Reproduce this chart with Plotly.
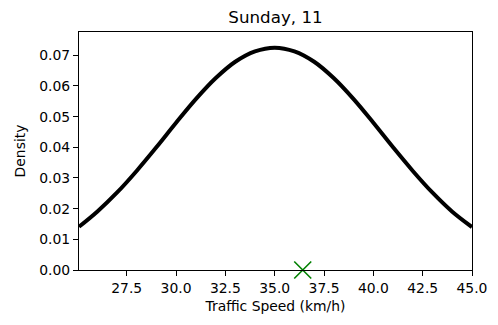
import plotly.graph_objects as go

# Values
speed = [25.08, 26, 27, 28, 29, 30, 31, 32, 33, 34, 35, 36, 37, 38, 39, 40, 41, 42, 43, 44, 45]
density = [0.0141, 0.0190, 0.0252, 0.0323, 0.0400, 0.0480, 0.0557, 0.0625, 0.0679, 0.0713, 0.0725,
           0.0713, 0.0679, 0.0625, 0.0557, 0.0480, 0.0400, 0.0323, 0.0252, 0.0190, 0.0140]
observed_speed = [36.42]
observed_density = [0.0]
x_ticks = [27.5, 30.0, 32.5, 35.0, 37.5, 40.0, 42.5, 45.0]
y_ticks = [0.00, 0.01, 0.02, 0.03, 0.04, 0.05, 0.06, 0.07]

font = "DejaVu Sans"

fig = go.Figure()
fig.add_trace(go.Scatter(x=speed, y=density, mode="lines",
                         line=dict(color="black", width=4, shape="spline"),
                         showlegend=False, hoverinfo="skip"))
fig.add_trace(go.Scatter(x=observed_speed, y=observed_density, mode="markers",
                         marker=dict(symbol="x-thin", size=17, color="green",
                                     line=dict(color="green", width=1.6)),
                         cliponaxis=False, showlegend=False))

axis_common = dict(showgrid=False, zeroline=False, showline=True, linecolor="black",
                   linewidth=1.1, mirror=True, ticks="outside", ticklen=5, tickwidth=1.1,
                   tickcolor="black", tickfont=dict(family=font, size=13.9, color="black"))

# the page body adds an 8px offset; margins compensate for it
fig.update_layout(
    width=498, height=325,
    margin=dict(l=64, r=34, t=24, b=63),
    paper_bgcolor="white", plot_bgcolor="white",
    font=dict(family=font, color="black"),
    title=dict(text="Sunday, 11", x=0.5, xref="paper", xanchor="center", y=1 - 3 / 325,
               yanchor="top", yref="container", pad=dict(t=0, b=0),
               font=dict(family=font, size=16.7, color="black")),
    xaxis=dict(range=[25.08, 45.0], tickvals=x_ticks,
               ticktext=[f"{v:.1f}" for v in x_ticks],
               title=dict(text="Traffic Speed (km/h)", font=dict(family=font, size=13.9),
                          standoff=6),
               **axis_common),
    yaxis=dict(range=[0, 0.0776], tickvals=y_ticks,
               ticktext=[f"{v:.2f}" for v in y_ticks],
               title=dict(text="Density", font=dict(family=font, size=13.9), standoff=10),
               **axis_common),
)

fig.write_html("out.html")
